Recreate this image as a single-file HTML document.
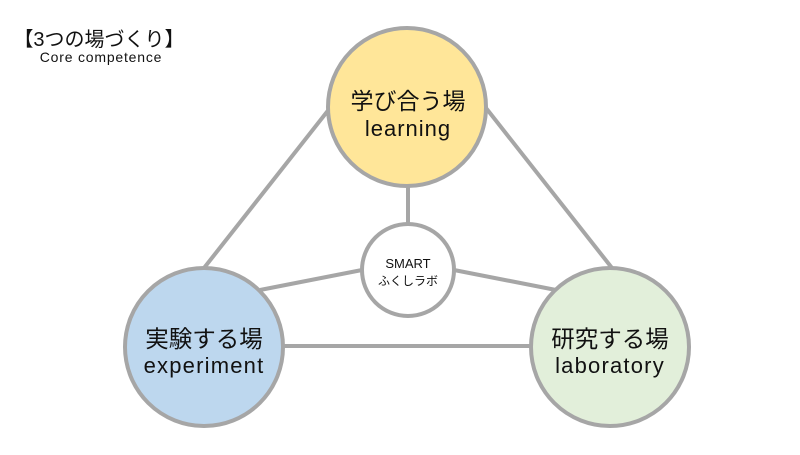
<!DOCTYPE html>
<html><head><meta charset="utf-8"><style>
body{margin:0;background:#fff;}
svg text{font-family:"Liberation Sans","Noto Sans CJK JP",sans-serif;fill:#111;}
</style></head><body>
<svg width="800" height="450" viewBox="0 0 800 450" xmlns="http://www.w3.org/2000/svg">
<g stroke="#a6a6a6" stroke-width="4" fill="none">
<line x1="330" y1="108" x2="204" y2="268"/>
<line x1="486" y1="108" x2="612" y2="268"/>
<line x1="284" y1="346" x2="530" y2="346"/>
<line x1="408" y1="185" x2="408" y2="225"/>
<line x1="362" y1="270" x2="260" y2="290"/>
<line x1="454" y1="270" x2="556" y2="290"/>
</g>
<g stroke="#a6a6a6" stroke-width="4">
<circle cx="407" cy="107" r="79" fill="#ffe699"/>
<circle cx="204" cy="347" r="79" fill="#bdd7ee"/>
<circle cx="610" cy="347" r="79" fill="#e2efda"/>
<circle cx="408" cy="270" r="46" fill="#fff"/>
</g>
<text x="408" y="109" font-size="23" text-anchor="middle">学び合う場</text>
<text x="408" y="136" font-size="22" letter-spacing="1" text-anchor="middle">learning</text>
<text x="204" y="347" font-size="23.5" text-anchor="middle">実験する場</text>
<text x="204" y="373" font-size="22" letter-spacing="1.2" text-anchor="middle">experiment</text>
<text x="610" y="347" font-size="23.5" text-anchor="middle">研究する場</text>
<text x="610" y="373" font-size="22" letter-spacing="1.2" text-anchor="middle">laboratory</text>
<text x="408" y="268" font-size="13" text-anchor="middle">SMART</text>
<text x="408" y="285" font-size="12" text-anchor="middle">ふくしラボ</text>
<text x="99" y="46" font-size="20" text-anchor="middle">【3つの場づくり】</text>
<text x="101" y="62" font-size="14" letter-spacing="0.8" text-anchor="middle">Core competence</text>
</svg>
</body></html>
